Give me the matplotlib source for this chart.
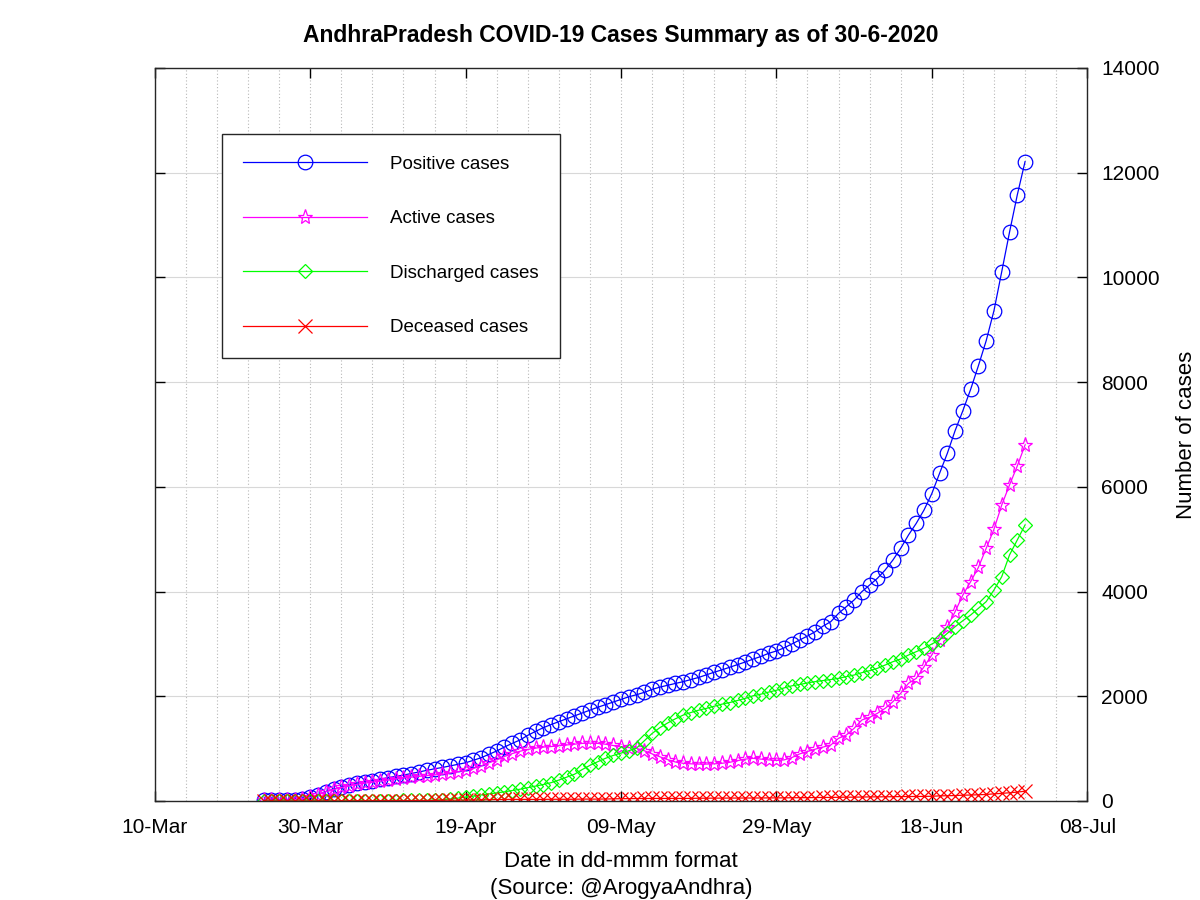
import matplotlib
matplotlib.use('Agg')
import matplotlib.pyplot as plt
from matplotlib.ticker import MultipleLocator
import pandas as pd

# daily values, 24-Mar-2020 .. 30-Jun-2020
start_date = '2020-03-24'
end_date = '2020-06-30'

positive = [
    12, 14, 18, 22, 28, 40, 70, 120,
    180, 225, 265, 300, 340, 365, 390, 420, 445, 470, 495, 525, 555, 585, 615,
    640, 670, 700, 730, 777, 827, 891, 955, 1031, 1101, 1165, 1254, 1330, 1400, 1460,
    1515, 1570, 1625, 1680, 1735, 1790, 1840, 1890, 1940, 1990, 2030, 2075, 2130, 2175,
    2210, 2245, 2279, 2320, 2360, 2410, 2460, 2505, 2555, 2605, 2655, 2710, 2760, 2820,
    2865, 2925, 3000,
    3075, 3151, 3234, 3340, 3425, 3584, 3711, 3839, 3998, 4125, 4253, 4412, 4603, 4826,
    5080, 5303, 5558, 5870, 6258, 6641, 7073, 7455, 7862, 8314, 8791, 9364, 10109,
    10861, 11574, 12210,
]
active = [
    12, 14, 17, 21, 27, 39, 69, 118,
    178, 220, 258, 288, 320, 340, 360, 380, 400, 420, 440, 455, 470, 485, 498,
    510, 535, 560, 590, 625, 670, 730, 790, 850, 905, 950, 985, 1010, 1030, 1040,
    1055, 1070, 1085, 1100, 1105, 1100, 1085, 1060, 1035, 1020, 1005, 960, 900, 845,
    790, 745, 720, 710, 705, 705, 710, 720, 740, 770, 800, 815, 800, 785,
    775, 785, 830,
    900, 945, 990, 1030, 1069, 1197, 1260, 1388, 1547, 1598, 1675, 1770, 1897, 2057,
    2248, 2343, 2565, 2788, 3075, 3329, 3616, 3934, 4189, 4463, 4826, 5189, 5653,
    6035, 6398, 6799,
]
discharged = [
    0, 0, 1, 1, 1, 1, 1, 1,
    1, 1, 1, 3, 4, 4, 5, 6, 8, 9, 10, 10, 11, 12, 16,
    25, 40, 55, 75, 95, 115, 135, 155, 175, 200, 225, 255, 285, 315, 350,
    400, 455, 510, 600, 680, 750, 815, 870, 915, 960, 1010, 1150, 1290, 1400,
    1490, 1570, 1640, 1690, 1735, 1770, 1810, 1850, 1880, 1920, 1960, 2010, 2040, 2080,
    2115, 2160, 2200,
    2225, 2255, 2280, 2300, 2320, 2343, 2375, 2406, 2451, 2489, 2534, 2597, 2661, 2712,
    2788, 2852, 2916, 2998, 3075, 3202, 3329, 3444, 3552, 3680, 3807, 4030, 4284,
    4698, 4985, 5271,
]
deceased = [
    0, 0, 0, 0, 0, 0, 0, 0,
    1, 1, 1, 3, 3, 3, 4, 6, 6, 6, 6, 7, 9, 9, 11,
    14, 15, 16, 17, 19, 20, 24, 27, 31, 31, 31, 31, 31, 31, 33,
    33, 33, 34, 36, 36, 36, 38, 41, 44, 45, 47, 48, 49, 49,
    49, 49, 49, 50, 53, 53, 55, 55, 56, 56, 57, 57, 58, 59,
    59, 60, 62,
    63, 64, 66, 68, 68, 71, 73, 73, 76, 78, 79, 80, 82, 84,
    86, 86, 88, 90, 98, 101, 104, 111, 114, 119, 125, 136, 146,
    157, 170, 187,
]

dates = pd.date_range(start_date, end_date, freq='D')

plt.rcParams['font.family'] = ['Liberation Sans', 'DejaVu Sans']

fig = plt.figure(figsize=(12, 9), dpi=100)
ax = fig.add_axes([0.129, 0.11, 0.777, 0.8145])

# series
ax.plot(dates, positive, color='#0000ff', marker='o', markersize=10.5, markerfacecolor='none',
        markeredgewidth=0.9, linewidth=0.9, label='Positive cases')
ax.plot(dates, active, color='#ff00ff', marker='*', markersize=11, markerfacecolor='none',
        markeredgewidth=0.9, linewidth=0.9, label='Active cases')
ax.plot(dates, discharged, color='#00ff00', marker='D', markersize=7.5, markerfacecolor='none',
        markeredgewidth=0.9, linewidth=0.9, label='Discharged cases')
ax.plot(dates, deceased, color='#ff0000', marker='x', markersize=9.5, markeredgewidth=0.9,
        linewidth=0.9, label='Deceased cases')

# x axis: major every 20 days, grid every 4 days
ax.set_xlim(pd.Timestamp('2020-03-10'), pd.Timestamp('2020-07-08'))
ticks = pd.date_range('2020-03-10', '2020-07-08', freq='20D')
ax.set_xticks(ticks)
ax.set_xticklabels([t.strftime('%d-%b') for t in ticks])
ax.set_xticks(pd.date_range('2020-03-10', '2020-07-08', freq='4D'), minor=True)

# y axis on the right
ax.set_ylim(0, 14000)
ax.yaxis.set_major_locator(MultipleLocator(2000))
ax.yaxis.tick_right()
ax.yaxis.set_label_position('right')

ax.tick_params(axis='both', which='major', direction='in', length=7, width=1,
               top=True, bottom=True, left=True, right=True, labelsize=15)
ax.tick_params(axis='x', which='major', pad=12)
ax.tick_params(axis='y', which='major', pad=10)
ax.tick_params(axis='both', which='minor', length=0)

# grid
ax.grid(True, axis='x', which='both', color='#b8b8b8', linestyle=(0, (1, 2)), linewidth=0.8)
ax.grid(True, axis='y', which='major', color='#d8d8d8', linestyle='-', linewidth=0.8)
ax.set_axisbelow(True)

for sp in ax.spines.values():
    sp.set_linewidth(1)
    sp.set_color('#262626')

ax.set_xlabel('Date in dd-mmm format\n(Source: @ArogyaAndhra)', fontsize=16, labelpad=10,
              linespacing=1.4)
ax.set_ylabel('Number of cases', fontsize=16, labelpad=12)
ax.set_title('AndhraPradesh COVID-19 Cases Summary as of 30-6-2020', fontsize=16.5,
             fontweight='bold', pad=19)

leg = ax.legend(loc='upper left', bbox_to_anchor=(0.072, 0.91), fontsize=13.5,
                handlelength=6.6, handletextpad=1.2, labelspacing=2.0, borderpad=1.15,
                fancybox=False, framealpha=1, borderaxespad=0)
leg.get_frame().set_edgecolor('#262626')
leg.get_frame().set_linewidth(1)

fig.savefig('out.png', dpi=100)
